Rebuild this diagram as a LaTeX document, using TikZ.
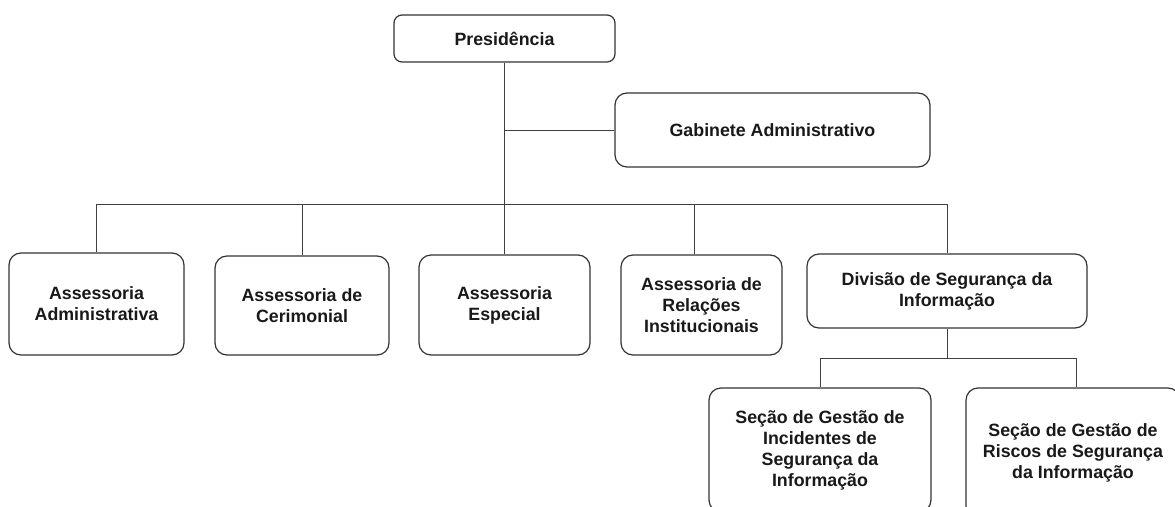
\documentclass[tikz,border=0pt]{standalone}
\usepackage{fontspec}
\setmainfont{Liberation Sans}
\begin{document}
\begin{tikzpicture}[x=1pt,y=-1pt,
  box/.style={draw=black!80, line width=1.2pt, rounded corners=12pt, align=center,
    font=\fontsize{17.8}{21}\selectfont\bfseries, text=black!90, inner sep=0pt, fill=white},
  conn/.style={draw=black!75, line width=1pt}]
\clip (0,0) rectangle (1175,506);
\fill[white] (0,0) rectangle (1175,506);

\node[box, rounded corners=8pt, minimum width=221, minimum height=47] (pres) at (504.5,38.5) {Presidência};
\node[box, minimum width=315, minimum height=74] (gab) at (772.5,130) {Gabinete Administrativo};
\node[box, minimum width=175, minimum height=102] (adm) at (96.5,304) {Assessoria\\Administrativa};
\node[box, minimum width=174, minimum height=99] (cer) at (302,305.5) {Assessoria de\\Cerimonial};
\node[box, minimum width=171, minimum height=100] (esp) at (504.5,305) {Assessoria\\Especial};
\node[box, minimum width=161, minimum height=100] (rel) at (701.5,305) {Assessoria de\\Relações\\Institucionais};
\node[box, minimum width=280, minimum height=74] (div) at (947,291) {Divisão de Segurança da\\Informação};
\node[box, minimum width=222, minimum height=124] (inc) at (820,450) {Seção de Gestão de\\Incidentes de\\Segurança da\\Informação};
\node[box, minimum width=214, minimum height=130] (ris) at (1073,453) {Seção de Gestão de\\Riscos de Segurança\\da Informação};

\coordinate (bus) at (504,204);
\coordinate (sbus) at (947,358);

\draw[conn] (pres.south) -- (esp.north);
\draw[conn] (pres.south |- gab.west) -- (gab.west);
\draw[conn] (adm.north) -- (adm.north |- bus) -- (div.north |- bus) -- (div.north);
\draw[conn] (cer.north) -- (cer.north |- bus);
\draw[conn] ([xshift=-7.5pt]rel.north) -- ([xshift=-7.5pt]rel.north |- bus);
\draw[conn] (div.south) -- (div.south |- sbus);
\draw[conn] (inc.north) -- (inc.north |- sbus) -- ([xshift=3pt]ris.north |- sbus) -- ([xshift=3pt]ris.north);
\end{tikzpicture}
\end{document}
